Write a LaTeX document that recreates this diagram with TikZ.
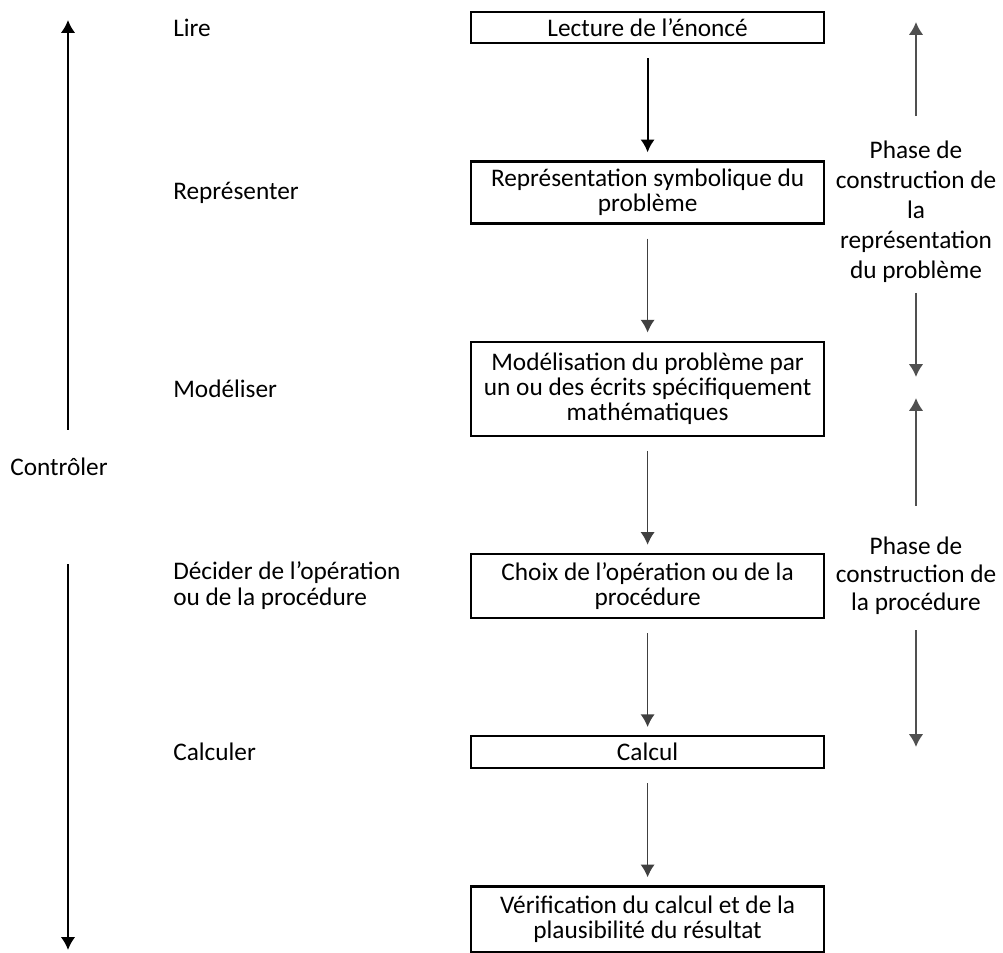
\documentclass[tikz,border=0pt]{standalone}
\usepackage{fontspec}
\setmainfont{Carlito}
\usepackage{xcolor}
\usepackage{tikz}
\usetikzlibrary{positioning,arrows.meta}

\definecolor{darkarrow}{HTML}{404040}
\definecolor{phasearrow}{HTML}{505050}

\begin{document}
\begin{tikzpicture}[node distance=2.9cm, >={Latex[length=0.32cm,width=0.36cm]},
    box/.style={draw, line width=1.6pt, minimum width=8.83cm, align=center, inner sep=0pt, font=\fontsize{18}{18}\selectfont},
    lbl/.style={anchor=west, align=left, inner sep=0pt, font=\fontsize{18}{18.5}\selectfont},
    flow/.style={->, line width=1.2pt, draw=darkarrow, shorten <=0.35cm, shorten >=0.2cm}]
        \useasboundingbox (0,0) rectangle (25.075,-23.825); % Keep the page size

        % Central column of steps
        \node[box, minimum height=0.78cm] (lecture) at (16.19,-0.69) {Lecture de l’énoncé};
        \node[box, minimum height=1.55cm, below=of lecture] (repr) {Représentation symbolique du\\problème};
        \node[box, minimum height=2.35cm, below=of repr] (model) {Modélisation du problème par\\un ou des écrits spécifiquement\\mathématiques};
        \node[box, minimum height=1.6cm, below=of model] (choix) {Choix de l’opération ou de la\\procédure};
        \node[box, minimum height=0.8cm, below=of choix] (calcul) {Calcul};
        \node[box, minimum height=1.64cm, below=of calcul] (verif) {Vérification du calcul et de la\\plausibilité du résultat};

        % Arrows between the steps
        \draw[flow, draw=black, line width=1.5pt] (lecture) -- (repr);
        \draw[flow] (repr) -- (model);
        \draw[flow] (model) -- (choix);
        \draw[flow] (choix) -- (calcul);
        \draw[flow] (calcul) -- (verif);

        % Verbs on the left, level with each step
        \coordinate (labx) at (4.325,0);
        \node[lbl] (lire) at (lecture -| labx) {Lire};
        \node[lbl] (representer) at (repr -| labx) {Représenter};
        \node[lbl] (modeliser) at (model -| labx) {Modéliser};
        \node[lbl] (decider) at (choix -| labx) {Décider de l’opération\\ou de la procédure};
        \node[lbl] (calculer) at (calcul -| labx) {Calculer};

        % Controle spans the whole process
        \node[lbl] (controler) at (0.25,-11.675) {Contrôler};
        \coordinate (ctop) at (1.7,-0.5);
        \coordinate (cbot) at (1.7,-23.75);
        \draw[->, line width=1.5pt, shorten <=0.7cm] (controler.north -| ctop) -- (ctop);
        \draw[->, line width=1.5pt, shorten <=2.2cm] (controler.south -| cbot) -- (cbot);

        % Phases on the right
        \node[lbl, anchor=center, align=center, font=\fontsize{18}{21.3}\selectfont] (phaserep) at (22.9,-5.3) {Phase de\\construction de\\la\\représentation\\du problème};
        \node[lbl, anchor=center, align=center, font=\fontsize{18}{19.8}\selectfont] (phaseproc) at (22.9,-14.4) {Phase de\\construction de\\la procédure};
        \coordinate (reptop) at (22.9,-0.55);
        \coordinate (repbot) at (22.9,-9.425);
        \coordinate (proctop) at (22.9,-9.95);
        \coordinate (procbot) at (22.9,-18.675);
        \draw[->, line width=1.3pt, draw=phasearrow, shorten <=0.62cm] (phaserep.north) -- (reptop);
        \draw[->, line width=1.3pt, draw=phasearrow, shorten <=0.25cm] (phaserep.south) -- (repbot);
        \draw[->, line width=1.3pt, draw=phasearrow, shorten <=0.78cm] (phaseproc.north) -- (proctop);
        \draw[->, line width=1.3pt, draw=phasearrow, shorten <=0.38cm] (phaseproc.south) -- (procbot);
    \end{tikzpicture}
\end{document}
